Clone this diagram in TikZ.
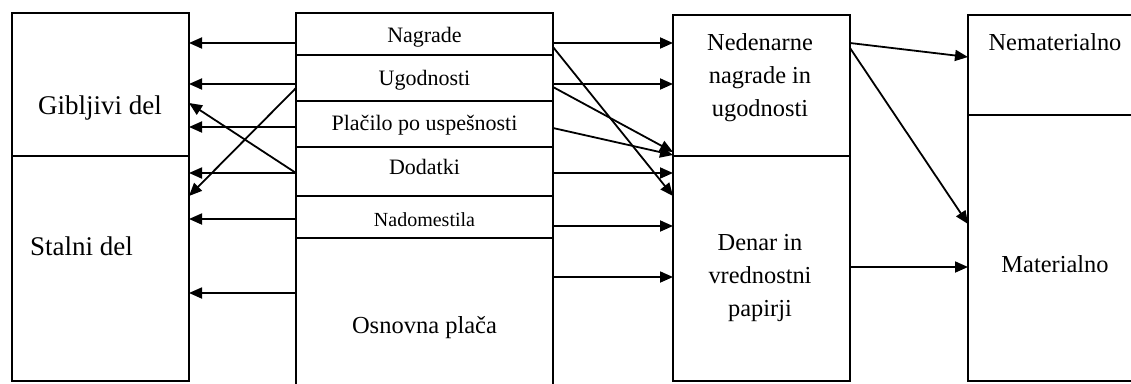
\documentclass[tikz,border=0pt]{standalone}
\usepackage{fontspec}
\setmainfont{Liberation Serif}
\usetikzlibrary{arrows.meta}
\begin{document}
\begin{tikzpicture}[x=1pt,y=-1pt,
  cell/.style={draw, line width=1.8pt, inner sep=0pt, outer sep=0pt},
  lbl/.style={inner sep=0pt, outer sep=0pt, anchor=base},
  link/.style={line width=1.8pt, -{Triangle[length=13pt,width=11pt]}},
]
\clip (0,0) rectangle (1131,383);

% left column: variable and fixed part
\node[cell, minimum width=177pt, minimum height=143pt] (gib) at (100.5,84.5) {};
\node[cell, minimum width=177pt, minimum height=225pt] (stal) at (100.5,268.5) {};

% middle column: pay components
\node[cell, minimum width=257pt, minimum height=42pt]  (nag) at (424.5,34) {};
\node[cell, minimum width=257pt, minimum height=46pt]  (ugo) at (424.5,78) {};
\node[cell, minimum width=257pt, minimum height=46pt]  (pla) at (424.5,124) {};
\node[cell, minimum width=257pt, minimum height=49pt]  (dod) at (424.5,171.5) {};
\node[cell, minimum width=257pt, minimum height=42pt]  (nad) at (424.5,217) {};
\node[cell, minimum width=257pt, minimum height=162pt] (osn) at (424.5,319) {};

% third column: non-monetary vs. monetary
\node[cell, minimum width=177pt, minimum height=141pt] (ned) at (761.5,85.5) {};
\node[cell, minimum width=177pt, minimum height=225pt] (den) at (761.5,268.5) {};

% right column: immaterial vs. material
\node[cell, minimum width=177pt, minimum height=100pt] (nem) at (1056.5,65) {};
\node[cell, minimum width=177pt, minimum height=266pt] (mat) at (1056.5,248) {};

% labels
\node[lbl, font=\fontsize{27}{32}\selectfont] (tgib) at (100,114) {Gibljivi del};
\node[lbl, anchor=base west, font=\fontsize{27}{32}\selectfont] (tstal) at (30,255) {Stalni del};
\node[lbl, font=\fontsize{22}{26}\selectfont] (tnag) at (424.5,42.7) {Nagrade};
\node[lbl, font=\fontsize{22}{26}\selectfont] (tugo) at (424.5,85) {Ugodnosti};
\node[lbl, font=\fontsize{22}{26}\selectfont] (tpla) at (424.5,130.5) {Plačilo po uspešnosti};
\node[lbl, font=\fontsize{22}{26}\selectfont] (tdod) at (424.5,174) {Dodatki};
\node[lbl, font=\fontsize{20}{24}\selectfont] (tnad) at (424.5,226.5) {Nadomestila};
\node[lbl, font=\fontsize{24.5}{29}\selectfont] (tosn) at (424.5,333) {Osnovna plača};
\node[inner sep=0pt, align=center, font=\fontsize{24.4}{33}\selectfont] (tned) at (760,77.3)
  {Nedenarne\\nagrade in\\ugodnosti};
\node[inner sep=0pt, align=center, font=\fontsize{24.4}{33}\selectfont] (tden) at (760,278.3)
  {Denar in\\vrednostni\\papirji};
\node[lbl, font=\fontsize{24.4}{29}\selectfont] (tnem) at (1055,50) {Nematerialno};
\node[lbl, font=\fontsize{24.4}{29}\selectfont] (tmat) at (1055,272.7) {Materialno};

% start points on the middle column, left side
\coordinate (L1) at ([yshift=-9pt]nag.west);
\coordinate (L2) at ([yshift=-6pt]ugo.west);
\coordinate (L3) at ([yshift=-3pt]pla.west);
\coordinate (L4) at ([yshift=-1.5pt]dod.west);
\coordinate (L5) at ([yshift=-2pt]nad.west);
\coordinate (L6) at ([yshift=26pt]osn.west);
\coordinate (LA) at ([yshift=-10pt]ugo.west);

\draw[link] (L1) -- (L1 -| gib.east);
\draw[link] (L2) -- (L2 -| gib.east);
\draw[link] (L3) -- (L3 -| gib.east);
\draw[link] (L4) -- (L4 -| stal.east);
\draw[link] (L5) -- (L5 -| stal.east);
\draw[link] (L6) -- (L6 -| stal.east);
\draw[link] (LA) -- ([yshift=72.5pt]stal.east);
\draw[link] (L4) -- ([yshift=-18.5pt]gib.east);

% start points on the middle column, right side
\coordinate (R1) at ([yshift=-9pt]nag.east);
\coordinate (R2) at ([yshift=-6pt]ugo.east);
\coordinate (RA) at ([yshift=-13pt]nag.east);
\coordinate (RB) at ([yshift=-9pt]ugo.east);
\coordinate (RC) at ([yshift=-4pt]pla.east);
\coordinate (R4) at ([yshift=-1.5pt]dod.east);
\coordinate (R5) at ([yshift=-9pt]nad.east);
\coordinate (R6) at ([yshift=42pt]osn.east);

\draw[link] (R1) -- (R1 -| ned.west);
\draw[link] (R2) -- (R2 -| ned.west);
\draw[link] (RA) -- ([yshift=72.5pt]den.west);
\draw[link] (RB) -- ([yshift=-66.5pt]ned.west);
\draw[link] (RC) -- ([yshift=-69.5pt]ned.west);
\draw[link] (R4) -- (R4 -| den.west);
\draw[link] (R5) -- (R5 -| den.west);
\draw[link] (R6) -- (R6 -| den.west);

% third column to right column
\coordinate (S1) at ([yshift=42.5pt]ned.east);
\coordinate (S2) at ([yshift=37.5pt]ned.east);
\coordinate (S3) at ([yshift=1.5pt]den.east);
\draw[link] (S1) -- ([yshift=8pt]nem.west);
\draw[link] (S2) -- ([yshift=24pt]mat.west);
\draw[link] (S3) -- (S3 -| mat.west);
\end{tikzpicture}
\end{document}
